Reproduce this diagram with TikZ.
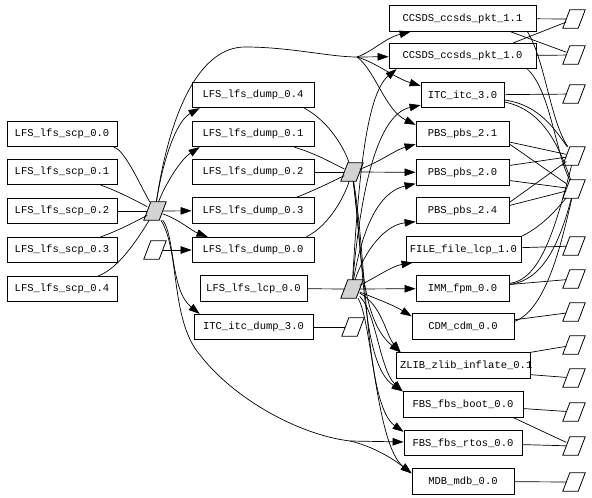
\documentclass[tikz,border=0pt]{standalone}
\usepackage{fontspec}
\newfontfamily\tfont{Liberation Mono}
\usetikzlibrary{arrows.meta,calc}
\definecolor{gvgray}{HTML}{D3D3D3}
\begin{document}
\begin{tikzpicture}[x=1pt,y=-1pt,
  box/.style={draw, rectangle, minimum height=25.5pt, inner sep=0pt, line width=0.8pt, font={\tfont\fontsize{10.5}{12}\selectfont}},
  par/.style={rectangle, minimum width=15pt, minimum height=18pt, inner sep=0pt},
  ln/.style={line width=0.7pt},
  ar/.style={line width=0.7pt, -{Triangle[length=11pt,width=7.5pt]}}]
\useasboundingbox (0,0) rectangle (592,498);
% left column
\node[box, minimum width=110pt] (scp0) at (62,134) {LFS\_lfs\_scp\_0.0};
\node[box, minimum width=110pt] (scp1) at (62,172) {LFS\_lfs\_scp\_0.1};
\node[box, minimum width=110pt] (scp2) at (62,211) {LFS\_lfs\_scp\_0.2};
\node[box, minimum width=110pt] (scp3) at (62,250) {LFS\_lfs\_scp\_0.3};
\node[box, minimum width=110pt] (scp4) at (62,289) {LFS\_lfs\_scp\_0.4};
\node[par] (P1) at (155,211) {};
\node[par] (P2) at (155,250) {};
% middle column
\node[box, minimum width=122pt] (dump4) at (253,95) {LFS\_lfs\_dump\_0.4};
\node[box, minimum width=122pt] (dump1) at (253,134) {LFS\_lfs\_dump\_0.1};
\node[box, minimum width=122pt] (dump2) at (253,172) {LFS\_lfs\_dump\_0.2};
\node[box, minimum width=122pt] (dump3) at (253,210.5) {LFS\_lfs\_dump\_0.3};
\node[box, minimum width=122pt] (dump0) at (253,250) {LFS\_lfs\_dump\_0.0};
\node[box, minimum width=107pt] (lcp) at (253.5,288.5) {LFS\_lfs\_lcp\_0.0};
\node[box, minimum width=119pt] (itcd) at (253.5,327) {ITC\_itc\_dump\_3.0};
\node[par] (P3) at (352,172) {};
\node[par] (P4) at (352,289) {};
\node[par] (P5) at (353,327) {};
% right column
\node[box, minimum width=147pt] (ccsds11) at (462.5,18.5) {CCSDS\_ccsds\_pkt\_1.1};
\node[box, minimum width=147pt] (ccsds10) at (462.5,56) {CCSDS\_ccsds\_pkt\_1.0};
\node[box, minimum width=83pt] (itc3) at (462.5,95) {ITC\_itc\_3.0};
\node[box, minimum width=93pt] (pbs21) at (462.5,134) {PBS\_pbs\_2.1};
\node[box, minimum width=93pt] (pbs20) at (462.5,172.5) {PBS\_pbs\_2.0};
\node[box, minimum width=93pt] (pbs24) at (462.5,210.5) {PBS\_pbs\_2.4};
\node[box, minimum width=115pt] (file) at (463.5,249.5) {FILE\_file\_lcp\_1.0};
\node[box, minimum width=93pt] (imm) at (462.5,288.5) {IMM\_fpm\_0.0};
\node[box, minimum width=102pt] (cdm) at (463,326.5) {CDM\_cdm\_0.0};
\node[box, minimum width=134pt] (zlib) at (463,365.5) {\makebox[126pt][l]{ZLIB\_zlib\_inflate\_0.1}};
\node[box, minimum width=120pt] (boot) at (463,404.5) {FBS\_fbs\_boot\_0.0};
\node[box, minimum width=118pt] (rtos) at (463,443) {FBS\_fbs\_rtos\_0.0};
\node[box, minimum width=102pt] (mdb) at (463,481.5) {MDB\_mdb\_0.0};
% right parallelograms
\foreach \i/\yy in {1/19,2/55,3/94,4/156,5/189,6/246,7/279,8/312,9/345,10/378,11/412,12/446,13/482}
  \node[par] (rp\i) at (574,\yy) {};
% parallelogram outlines
\foreach \n/\c in {P1/gvgray,P3/gvgray,P4/gvgray,P2/white,P5/white,rp1/white,rp2/white,rp3/white,rp4/white,rp5/white,rp6/white,rp7/white,rp8/white,rp9/white,rp10/white,rp11/white,rp12/white,rp13/white}
  \draw[line width=0.8pt, fill=\c] ([xshift=-3.5pt]\n.south west) -- ([xshift=-3.5pt]\n.south east) -- ([xshift=3.5pt]\n.north east) -- ([xshift=3.5pt]\n.north west) -- cycle;
\coordinate (hubA) at (357,57);
\coordinate (hubB) at (350,441);
% left fan
\draw[ln] (scp0) .. controls (125,150) and (140,185) .. (P1);
\draw[ln] (scp1) .. controls (115,190) and (135,200) .. (P1);
\draw[ln] (scp2) -- (P1);
\draw[ln] (scp3) .. controls (115,232) and (135,222) .. (P1);
\draw[ln] (scp4) .. controls (120,268) and (140,235) .. (P1);
% P1 outputs
\draw[ar] (P1) -- (dump3);
\draw[ar] (P2) -- (dump0);
\draw[ar] (P1) .. controls (180,220) and (192,231) .. ($(dump0.north west)+(16,0)$);
\draw[ar] (P1) .. controls (162,165) and (175,122) .. ($(dump4.south west)+(8,0)$);
\draw[ar] (P1) .. controls (165,185) and (180,160) .. ($(dump1.south west)+(8,0)$);
\draw[ar] (P1) .. controls (175,235) and (170,290) .. ($(itcd.north west)+(6,0)$);
\draw[ln] (P1) .. controls (170,110) and (200,47) .. (245,47) .. controls (290,47) and (330,57) .. (hubA);
\draw[ar] (hubA) -- (ccsds10);
\draw[ar] (hubA) .. controls (372,52) and (385,38) .. ($(ccsds11.south west)+(22,0)$);
\draw[ar] (hubA) .. controls (375,62) and (395,78) .. ($(itc3.north west)+(0,4)$);
\draw[ar] (hubA) .. controls (375,70) and (385,110) .. ($(pbs21.north west)+(0,4)$);
\draw[ln] (P1) .. controls (180,250) and (170,320) .. (200,355) .. controls (235,400) and (300,435) .. (hubB);
\draw[ar] (hubB) -- (rtos);
\draw[ar] (hubB) .. controls (372,446) and (392,458) .. ($(mdb.north west)+(0,5)$);
% middle fan
\draw[ln] ($(dump4.south east)+(-10,0)$) .. controls (330,122) and (345,150) .. (P3);
\draw[ln] ($(dump1.south east)+(-20,0)$) .. controls (320,155) and (335,165) .. (P3);
\draw[ln] (dump2) -- (P3);
\draw[ln] ($(dump3.north east)+(-18,0)$) .. controls (320,188) and (335,180) .. (P3);
\draw[ln] ($(dump0.north east)+(-8,0)$) .. controls (330,225) and (345,195) .. (P3);
\draw[ln] (lcp) -- (P4);
\draw[ln] (itcd) -- (P5);
% P3 outputs
\draw[ar] (P3) -- (pbs20);
\draw[ar] (P3) .. controls (380,162) and (395,150) .. ($(pbs21.south west)+(0,-3)$);
\draw[ar] (P3) .. controls (362,250) and (360,320) .. ($(zlib.north west)+(5,0)$);
\draw[ar] (P3) .. controls (364,260) and (362,365) .. (boot.north west);
\draw[ar] (P3) .. controls (367,260) and (365,405) .. ($(rtos.north west)+(0,2)$);
% P4 outputs
\draw[ar] (P4) -- (imm);
\draw[ar] (P4) .. controls (380,300) and (395,306) .. ($(cdm.north west)+(0,3)$);
\draw[ar] (P4) .. controls (375,278) and (392,266) .. ($(file.south west)+(7,0)$);
\draw[ar] (P4) .. controls (365,250) and (385,225) .. ($(pbs24.south west)+(0,-2)$);
\draw[ar] (P4) .. controls (362,230) and (378,192) .. ($(pbs20.south west)+(0,-2)$);
\draw[ar] (P4) .. controls (360,200) and (375,115) .. ($(itc3.south west)+(0,-3)$);
\draw[ar] (P4) .. controls (358,190) and (365,95) .. ($(ccsds10.south west)+(8,0)$);
\draw[ar] (P4) .. controls (382,305) and (386,335) .. ($(zlib.north west)+(5,0)$);
\draw[ar] (P4) .. controls (376,312) and (380,370) .. (boot.north west);
\draw[ar] (P4) .. controls (372,320) and (376,445) .. ($(mdb.north west)+(0,5)$);
% right side
\draw[ln] (ccsds11) -- (rp1);
\draw[ln] (ccsds10) -- (rp2);
\draw[ln] ($(ccsds11.south east)+(-26,0)$) -- (rp2);
\draw[ln] ($(ccsds10.north east)+(-23,0)$) -- (rp1);
\draw[ln] ($(ccsds11.south east)+(-9,0)$) .. controls (545,60) and (550,120) .. (rp4);
\draw[ln] ($(ccsds10.south east)+(-9,0)$) .. controls (550,90) and (555,150) .. (rp5);
\draw[ln] (itc3) -- (rp3);
\draw[ln] ($(itc3.east)+(0,5)$) .. controls (540,105) and (555,130) .. (rp4);
\draw[ln] ($(itc3.east)+(0,7)$) .. controls (545,110) and (560,150) .. (rp5);
\draw[ln] ($(pbs21.east)+(0,8)$) -- (rp4);
\draw[ln] ($(pbs21.east)+(0,10)$) -- (rp5);
\draw[ln] ($(pbs20.east)+(0,-7)$) -- (rp4);
\draw[ln] ($(pbs20.east)+(0,8)$) -- (rp5);
\draw[ln] ($(pbs24.east)+(0,-8)$) -- (rp4);
\draw[ln] ($(pbs24.east)+(0,-5)$) -- (rp5);
\draw[ln] (file) -- (rp6);
\draw[ln] (file.north east) .. controls (545,225) and (560,205) .. (rp5);
\draw[ln] (imm) -- (rp7);
\draw[ln] ($(imm.east)+(0,-5)$) .. controls (540,280) and (555,230) .. (rp4);
\draw[ln] ($(imm.east)+(0,-4)$) .. controls (545,280) and (560,240) .. (rp5);
\draw[ln] (cdm) -- (rp8);
\draw[ln] ($(cdm.east)+(0,-5)$) .. controls (545,310) and (560,250) .. (rp5);
\draw[ln] (zlib.north east) -- (rp9);
\draw[ln] ($(zlib.south east)+(0,-4)$) -- (rp10);
\draw[ln] (boot) -- (rp11);
\draw[ln] ($(boot.south east)+(-10,0)$) -- (rp12);
\draw[ln] (rtos) -- (rp12);
\draw[ln] (mdb) -- (rp13);
\end{tikzpicture}
\end{document}
